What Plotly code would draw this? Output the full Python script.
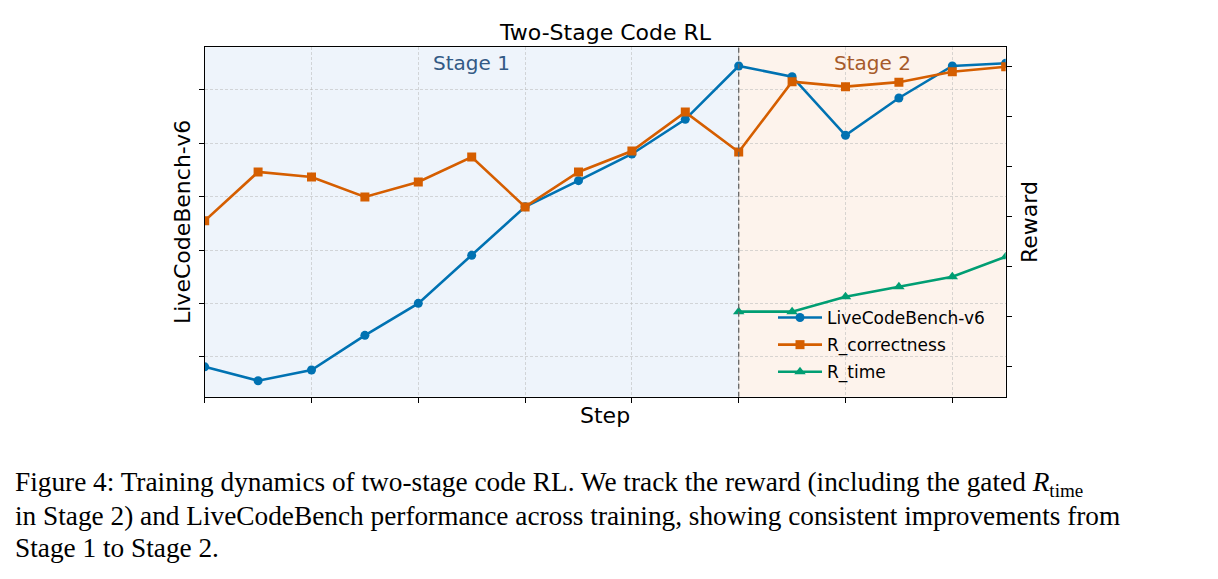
import plotly.graph_objects as go

# ---- data ----
steps = list(range(16))
lcb = [51.62, 51.10, 51.50, 52.80, 54.00, 55.80, 57.62, 58.60, 59.60, 60.90,
       62.90, 62.50, 60.30, 61.70, 62.90, 63.00]
r_correctness = [0.491, 0.589, 0.579, 0.539, 0.569, 0.619, 0.519, 0.589, 0.631, 0.709,
                 0.629, 0.770, 0.760, 0.769, 0.790, 0.800]
time_steps = [10, 11, 12, 13, 14, 15]
r_time = [0.309, 0.309, 0.339, 0.359, 0.379, 0.419]

x_ticks = [0, 2, 4, 6, 8, 10, 12, 14]
left_ticks = [52, 54, 56, 58, 60, 62]
right_ticks = [0.2, 0.3, 0.4, 0.5, 0.6, 0.7, 0.8]
stage_split = 10

W, H = 1218, 579
FONT = "DejaVu Sans"
BLUE, ORANGE, GREEN = "#0072B2", "#D55E00", "#009E73"

def px_x(p):
    return p / W

def px_y(p):
    return 1 - p / H

x_dom = [px_x(204.7), px_x(1005.7)]
y_dom = [px_y(396.7), px_y(47.3)]

fig = go.Figure()

fig.add_trace(go.Scatter(
    x=steps, y=lcb, name="LiveCodeBench-v6", mode="lines+markers", legendgroup="a",
    line=dict(color=BLUE, width=2.6), marker=dict(symbol="circle", size=9, color=BLUE),
    yaxis="y"))
fig.add_trace(go.Scatter(
    x=steps, y=r_correctness, name="R_correctness", mode="lines+markers", legendgroup="b",
    line=dict(color=ORANGE, width=2.6), marker=dict(symbol="square", size=9, color=ORANGE),
    yaxis="y2"))
fig.add_trace(go.Scatter(
    x=time_steps, y=r_time, name="R_time", mode="lines+markers", legendgroup="c",
    line=dict(color=GREEN, width=2.6), marker=dict(symbol="triangle-up", size=10, color=GREEN),
    yaxis="y2"))

grid = dict(showgrid=True, gridcolor="rgba(185,185,185,0.55)", gridwidth=0.8, griddash="3px,2px")

fig.update_layout(
    width=W, height=H,
    margin=dict(l=0, r=0, t=0, b=0),
    paper_bgcolor="white", plot_bgcolor="white",
    font=dict(family=FONT, color="black"),
    showlegend=True,
    legend=dict(x=px_x(773), y=px_y(300), xanchor="left", yanchor="top",
                bgcolor="rgba(0,0,0,0)", borderwidth=0,
                font=dict(family=FONT, size=17), tracegroupgap=2, itemwidth=44),
    xaxis=dict(domain=x_dom, range=[0, 15], tickvals=x_ticks, showticklabels=False,
               ticks="outside", ticklen=5, tickcolor="black", tickwidth=1.2,
               showline=True, linecolor="black", linewidth=1.3, mirror=True,
               zeroline=False, **grid),
    yaxis=dict(domain=y_dom, range=[50.5, 63.6], tickvals=left_ticks, showticklabels=False,
               ticks="outside", ticklen=5, tickcolor="black", tickwidth=1.2,
               showline=True, linecolor="black", linewidth=1.3, mirror=True,
               zeroline=False, anchor="x", **grid),
    yaxis2=dict(domain=y_dom, range=[0.1385, 0.8389], tickvals=right_ticks, showticklabels=False,
                overlaying="y", side="right", anchor="x",
                ticks="outside", ticklen=5, tickcolor="black", tickwidth=1.2,
                showline=True, linecolor="black", linewidth=1.3,
                showgrid=False, zeroline=False),
)

# stage shading and divider
fig.add_shape(type="rect", xref="x", yref="paper", x0=0, x1=stage_split,
              y0=y_dom[0], y1=y_dom[1], fillcolor="#eef4fb", line_width=0, layer="below")
fig.add_shape(type="rect", xref="x", yref="paper", x0=stage_split, x1=15,
              y0=y_dom[0], y1=y_dom[1], fillcolor="#fdf3ec", line_width=0, layer="below")
fig.add_shape(type="line", xref="x", yref="paper", x0=stage_split, x1=stage_split,
              y0=y_dom[0], y1=y_dom[1], line=dict(color="#666666", width=1.3, dash="5px,3px"))

ann = []
ann.append(dict(text="Two-Stage Code RL", x=px_x(605.2), y=px_y(32), xref="paper", yref="paper",
                showarrow=False, xanchor="center", yanchor="middle", font=dict(size=22, family=FONT)))
ann.append(dict(text="Stage 1", x=5, y=px_y(63), xref="x", yref="paper",
                showarrow=False, xanchor="center", yanchor="middle",
                font=dict(size=20, family=FONT, color="#335a85")))
ann.append(dict(text="Stage 2", x=12.5, y=px_y(63), xref="x", yref="paper",
                showarrow=False, xanchor="center", yanchor="middle",
                font=dict(size=20, family=FONT, color="#a65a2a")))
ann.append(dict(text="Step", x=px_x(605.2), y=px_y(415), xref="paper", yref="paper",
                showarrow=False, xanchor="center", yanchor="middle", font=dict(size=22, family=FONT)))
ann.append(dict(text="LiveCodeBench-v6", x=px_x(182), y=px_y(222), xref="paper", yref="paper",
                textangle=-90, showarrow=False, xanchor="center", yanchor="middle",
                font=dict(size=22, family=FONT)))
ann.append(dict(text="Reward", x=px_x(1029), y=px_y(222), xref="paper", yref="paper",
                textangle=-90, showarrow=False, xanchor="center", yanchor="middle",
                font=dict(size=22, family=FONT)))

caption = [
    "Figure 4: Training dynamics of two-stage code RL. We track the reward (including the gated <i>R</i><sub>time</sub>",
    "in Stage 2) and LiveCodeBench performance across training, showing consistent improvements from",
    "Stage 1 to Stage 2.",
]
cap_y = [484, 516, 548]
for line, yy in zip(caption, cap_y):
    ann.append(dict(text=line, x=px_x(13), y=px_y(yy), xref="paper", yref="paper",
                    showarrow=False, xanchor="left", yanchor="middle",
                    font=dict(size=27.3, family="Liberation Serif", color="black")))

fig.update_layout(annotations=ann)
fig.write_html("out.html")
